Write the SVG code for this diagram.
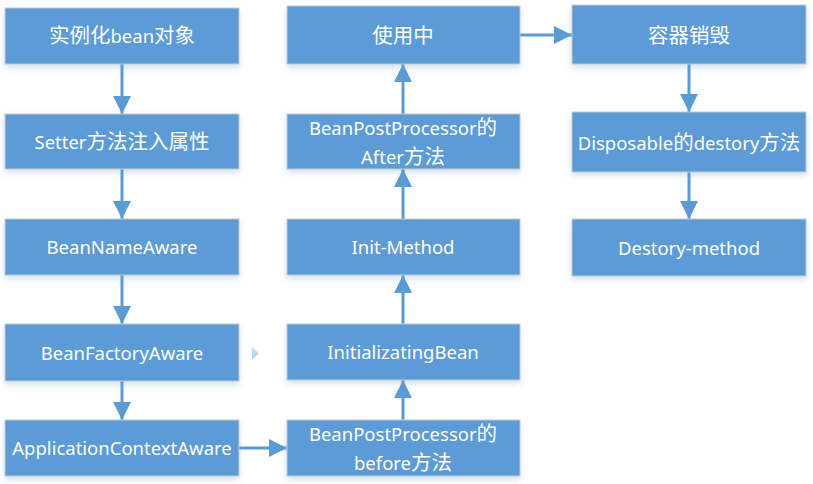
<svg xmlns="http://www.w3.org/2000/svg" width="813" height="484" viewBox="0 0 813 484">
<style>
.box{fill:#5b9bd5;stroke:#c9c9c9;stroke-width:1;filter:url(#sh)}
.t{fill:#ffffff;font-family:"Noto Sans","Noto Sans CJK SC",sans-serif;font-size:18.5px;text-anchor:middle}
.c{font-size:20.5px}
.ln{stroke:#5b9bd5;stroke-width:3;fill:none;marker-end:url(#ah)}
</style>
<defs>
<filter id="sh" x="-10%" y="-20%" width="120%" height="160%">
<feDropShadow dx="0" dy="3" stdDeviation="3" flood-color="#5b9bd5" flood-opacity="0.3"/>
</filter>
<marker id="ah" markerUnits="userSpaceOnUse" markerWidth="18" markerHeight="18" refX="18" refY="9" orient="auto">
<path d="M0,0 L18,9 L0,18 z" fill="#5b9bd5"/>
</marker>
</defs>
<rect width="813" height="484" fill="#ffffff"/>
<g id="connectors">
<line class="ln" x1="122" y1="64" x2="122" y2="114"/>
<line class="ln" x1="122" y1="169" x2="122" y2="219"/>
<line class="ln" x1="122" y1="275" x2="122" y2="324"/>
<line class="ln" x1="122" y1="381" x2="122" y2="420"/>
<line class="ln" x1="239" y1="448" x2="287" y2="448"/>
<line class="ln" x1="403" y1="420" x2="403" y2="380"/>
<line class="ln" x1="403" y1="324" x2="403" y2="275"/>
<line class="ln" x1="403" y1="219" x2="403" y2="169"/>
<line class="ln" x1="403" y1="114" x2="403" y2="64"/>
<line class="ln" x1="520" y1="35" x2="572" y2="35"/>
<line class="ln" x1="689" y1="64" x2="689" y2="112"/>
<line class="ln" x1="689" y1="172" x2="689" y2="219"/>
<polygon points="252,347 259,353.5 252,360" fill="#b7dcf0"/>
</g>
<g id="n1"><rect class="box" x="5" y="8" width="234" height="56"/><text class="t" x="122" y="42.5"><tspan class="c">实例化</tspan>bean<tspan class="c">对象</tspan></text></g>
<g id="n2"><rect class="box" x="5" y="114" width="234" height="55"/><text class="t" x="122" y="148.5">Setter<tspan class="c">方法注入属性</tspan></text></g>
<g id="n3"><rect class="box" x="5" y="219" width="234" height="56"/><text class="t" x="122" y="253.5">BeanNameAware</text></g>
<g id="n4"><rect class="box" x="5" y="324" width="234" height="57"/><text class="t" x="122" y="359.5">BeanFactoryAware</text></g>
<g id="n5"><rect class="box" x="5" y="420" width="234" height="56"/><text class="t" x="122" y="454.5">ApplicationContextAware</text></g>
<g id="n6"><rect class="box" x="287" y="420" width="233" height="56"/><text class="t" x="403" y="440.5">BeanPostProcessor<tspan class="c">的</tspan></text><text class="t" x="403" y="469.5">before<tspan class="c">方法</tspan></text></g>
<g id="n7"><rect class="box" x="287" y="324" width="233" height="56"/><text class="t" x="403" y="358.5">InitializatingBean</text></g>
<g id="n8"><rect class="box" x="287" y="219" width="233" height="56"/><text class="t" x="403" y="253.5">Init-Method</text></g>
<g id="n9"><rect class="box" x="287" y="114" width="233" height="55"/><text class="t" x="403" y="134.5">BeanPostProcessor<tspan class="c">的</tspan></text><text class="t" x="403" y="163.5">After<tspan class="c">方法</tspan></text></g>
<g id="n10"><rect class="box" x="287" y="6" width="233" height="58"/><text class="t c" x="403" y="42.5">使用中</text></g>
<g id="n11"><rect class="box" x="572" y="5" width="234" height="59"/><text class="t c" x="689" y="42.5">容器销毁</text></g>
<g id="n12"><rect class="box" x="572" y="112" width="234" height="60"/><text class="t" x="689" y="149.5">Disposable<tspan class="c">的</tspan>destory<tspan class="c">方法</tspan></text></g>
<g id="n13"><rect class="box" x="572" y="219" width="234" height="57"/><text class="t" x="689" y="254.5">Destory-method</text></g>
</svg>
